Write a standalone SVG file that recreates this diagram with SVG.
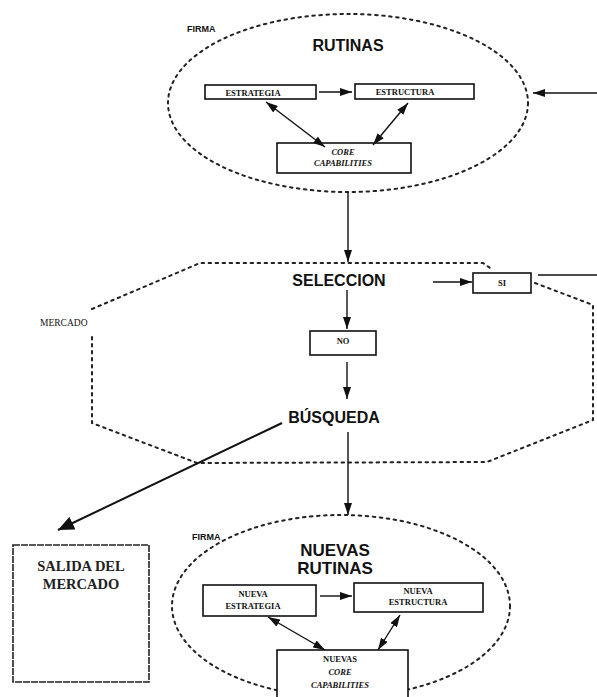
<svg xmlns="http://www.w3.org/2000/svg" width="597" height="697" viewBox="0 0 597 697">
<style>
.dot{fill:none;stroke:#222;stroke-width:2;stroke-dasharray:2.5 4.5;stroke-linecap:round}
.box{fill:#fff;stroke:#111;stroke-width:1.6}
.ln{fill:none;stroke:#111;stroke-width:1.4}
.big{font-family:"Liberation Sans",Arial,sans-serif;font-weight:bold;fill:#111;text-anchor:middle}
.sm{font-family:"Liberation Serif","Times New Roman",serif;font-size:8.5px;font-weight:bold;fill:#111;text-anchor:middle}
.it{font-family:"Liberation Serif","Times New Roman",serif;font-size:8.5px;font-style:italic;font-weight:bold;fill:#111;text-anchor:middle}
.lbl{font-family:"Liberation Sans",Arial,sans-serif;font-weight:bold;font-size:9px;fill:#111}
</style>
<defs>
<marker id="ah" viewBox="0 0 12 8" refX="12" refY="4" markerWidth="12" markerHeight="8" markerUnits="userSpaceOnUse" orient="auto-start-reverse">
<path d="M0,0 L12,4 L0,8 Z" fill="#111"/>
</marker>
<marker id="ahb" viewBox="0 0 16 14" refX="16" refY="7" markerWidth="16" markerHeight="14" markerUnits="userSpaceOnUse" orient="auto">
<path d="M0,0 L16,7 L0,14 Z" fill="#111"/>
</marker>
</defs>
<rect width="597" height="697" fill="#fff"/>

<g id="firma-top">
<ellipse class="dot" cx="348" cy="103" rx="180" ry="89"/>
<text class="lbl" x="187" y="32" font-size="9">FIRMA</text>
<text class="big" x="348" y="51" font-size="16">RUTINAS</text>
</g>
<g id="estrategia">
<rect class="box" x="205" y="85" width="111" height="14"/>
<text class="sm" x="253" y="95.5">ESTRATEGIA</text>
</g>
<g id="estructura">
<rect class="box" x="355" y="84" width="119" height="15"/>
<text class="sm" x="405" y="95">ESTRUCTURA</text>
</g>
<g id="core">
<rect class="box" x="277" y="143" width="134" height="30"/>
<text class="it" x="343" y="155">CORE</text>
<text class="it" x="343" y="166">CAPABILITIES</text>
</g>

<g id="mercado">
<polyline class="dot" points="92,309 200,263 483,263 493,270"/>
<polyline class="dot" points="535,283 593,305 593,420 487,462 197,463 92,423 92,335"/>
<text x="40" y="326" font-family="Liberation Serif,serif" font-size="9.5" fill="#111">MERCADO</text>
<text class="big" x="339" y="286" font-size="16">SELECCION</text>
<text class="big" x="334" y="423" font-size="16">BÚSQUEDA</text>
</g>
<g id="si">
<rect class="box" x="473" y="273" width="58" height="20"/>
<text class="sm" x="502" y="286">SI</text>
</g>
<g id="no">
<rect class="box" x="310" y="331" width="66" height="24"/>
<text class="sm" x="343" y="344">NO</text>
</g>

<g id="salida">
<rect x="13" y="545" width="136" height="137" fill="#fff" stroke="#222" stroke-width="1.6" stroke-dasharray="7 1"/>
<text x="81" y="571" font-family="Liberation Serif,serif" font-weight="bold" font-size="14.5" fill="#222" text-anchor="middle">SALIDA DEL</text>
<text x="81" y="589" font-family="Liberation Serif,serif" font-weight="bold" font-size="14.5" fill="#222" text-anchor="middle">MERCADO</text>
</g>

<g id="firma-bottom">
<ellipse class="dot" cx="341" cy="606" rx="169" ry="91"/>
<text class="lbl" x="192" y="540" font-size="9">FIRMA</text>
<text class="big" x="335" y="556" font-size="17">NUEVAS</text>
<text class="big" x="335" y="574" font-size="17">RUTINAS</text>
</g>
<g id="nueva-estrategia">
<rect class="box" x="203" y="585" width="113" height="31"/>
<text class="sm" x="253" y="597">NUEVA</text>
<text class="sm" x="253" y="609">ESTRATEGIA</text>
</g>
<g id="nueva-estructura">
<rect class="box" x="354" y="583" width="129" height="29"/>
<text class="sm" x="418" y="594">NUEVA</text>
<text class="sm" x="418" y="605">ESTRUCTURA</text>
</g>
<g id="nuevas-core">
<rect class="box" x="277" y="650" width="131" height="50"/>
<text class="sm" x="340" y="662">NUEVAS</text>
<text class="it" x="340" y="675">CORE</text>
<text class="it" x="340" y="688">CAPABILITIES</text>
</g>

<g id="connectors">
<line class="ln" x1="319" y1="92" x2="352" y2="92" marker-end="url(#ah)"/>
<line class="ln" x1="266" y1="102" x2="325" y2="147" marker-start="url(#ah)" marker-end="url(#ah)"/>
<line class="ln" x1="408" y1="103" x2="373" y2="145" marker-start="url(#ah)" marker-end="url(#ah)"/>
<line class="ln" x1="597" y1="93" x2="533" y2="93" marker-end="url(#ah)"/>
<line class="ln" x1="348" y1="192" x2="348" y2="262" marker-end="url(#ah)"/>
<line class="ln" x1="433" y1="282" x2="472" y2="282" marker-end="url(#ah)"/>
<line class="ln" x1="538" y1="275" x2="597" y2="275"/>
<line class="ln" x1="347" y1="290" x2="347" y2="329" marker-end="url(#ah)"/>
<line class="ln" x1="347" y1="362" x2="347" y2="399" marker-end="url(#ah)"/>
<line class="ln" x1="348" y1="432" x2="348" y2="515" marker-end="url(#ah)"/>
<line x1="282" y1="423" x2="58" y2="530" stroke="#111" stroke-width="2" marker-end="url(#ahb)"/>
<line class="ln" x1="320" y1="596" x2="352" y2="596" marker-end="url(#ah)"/>
<line class="ln" x1="268" y1="617" x2="325" y2="650" marker-start="url(#ah)" marker-end="url(#ah)"/>
<line class="ln" x1="400" y1="615" x2="378" y2="650" marker-start="url(#ah)" marker-end="url(#ah)"/>
</g>
</svg>
